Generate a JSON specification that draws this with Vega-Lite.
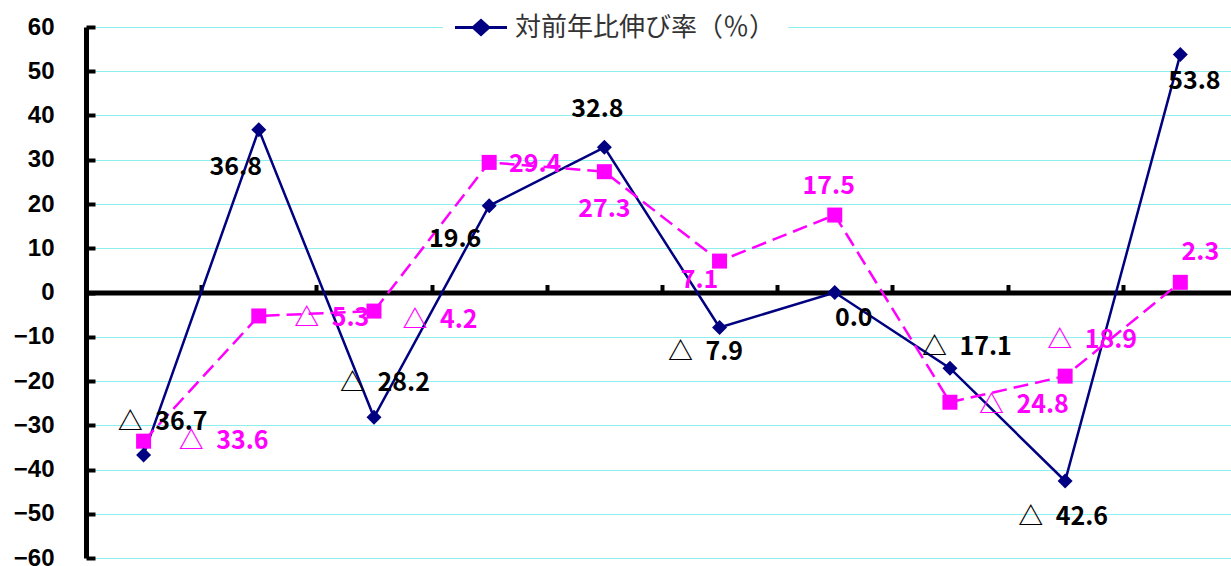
{
  "$schema": "https://vega.github.io/schema/vega-lite/v6.json",
  "width": 1145,
  "height": 531,
  "autosize": {"type": "none"},
  "padding": {"left": 86, "top": 27, "right": 0, "bottom": 8},
  "background": "white",
  "config": {"view": {"stroke": null}},
  "data": {
    "values": [
      {"i": 1, "s": "A", "v": -36.7},
      {"i": 2, "s": "A", "v": 36.8},
      {"i": 3, "s": "A", "v": -28.2},
      {"i": 4, "s": "A", "v": 19.6},
      {"i": 5, "s": "A", "v": 32.8},
      {"i": 6, "s": "A", "v": -7.9},
      {"i": 7, "s": "A", "v": 0.0},
      {"i": 8, "s": "A", "v": -17.1},
      {"i": 9, "s": "A", "v": -42.6},
      {"i": 10, "s": "A", "v": 53.8},
      {"i": 1, "s": "B", "v": -33.6},
      {"i": 2, "s": "B", "v": -5.3},
      {"i": 3, "s": "B", "v": -4.2},
      {"i": 4, "s": "B", "v": 29.4},
      {"i": 5, "s": "B", "v": 27.3},
      {"i": 6, "s": "B", "v": 7.1},
      {"i": 7, "s": "B", "v": 17.5},
      {"i": 8, "s": "B", "v": -24.8},
      {"i": 9, "s": "B", "v": -18.9},
      {"i": 10, "s": "B", "v": 2.3}
    ]
  },
  "transform": [
    {"calculate": "datum.v < 0 ? '△\u2002' + format(-datum.v, '.1f') : format(datum.v, '.1f')", "as": "label"}
  ],
  "encoding": {
    "x": {
      "field": "i",
      "type": "quantitative",
      "scale": {"domain": [0.5, 10.44], "nice": false, "zero": false},
      "axis": {
        "orient": "bottom",
        "values": [1.5, 2.5, 3.5, 4.5, 5.5, 6.5, 7.5, 8.5, 9.5],
        "labels": false,
        "title": null,
        "grid": false,
        "offset": -265.5,
        "domainColor": "black",
        "domainWidth": 5,
        "tickColor": "black",
        "tickWidth": 4,
        "tickSize": -8
      }
    },
    "y": {
      "field": "v",
      "type": "quantitative",
      "scale": {"domain": [-60, 60], "nice": false},
      "axis": {
        "values": [-60, -50, -40, -30, -20, -10, 0, 10, 20, 30, 40, 50, 60],
        "title": null,
        "grid": true,
        "gridColor": "#8EEFEF",
        "gridWidth": 1,
        "domainColor": "black",
        "domainWidth": 5,
        "tickColor": "black",
        "tickWidth": 4,
        "tickSize": -9,
        "labelPadding": 41,
        "labelFont": "Liberation Sans",
        "labelFontWeight": "bold",
        "labelFontSize": 24,
        "labelColor": "black",
        "labelFlush": false
      }
    }
  },
  "layer": [
    {
      "transform": [{"filter": "datum.s == 'A'"}],
      "mark": {"type": "line", "color": "#000080", "strokeWidth": 2.5}
    },
    {
      "transform": [{"filter": "datum.s == 'B'"}],
      "mark": {"type": "line", "color": "#FF00FF", "strokeWidth": 2.5, "strokeDash": [15, 7]}
    },
    {
      "transform": [{"filter": "datum.s == 'B'"}],
      "mark": {"type": "point", "shape": "square", "filled": true, "size": 225, "opacity": 1, "color": "#FF00FF"}
    },
    {
      "transform": [{"filter": "datum.s == 'A'"}],
      "mark": {"type": "point", "shape": "diamond", "filled": true, "size": 225, "opacity": 1},
      "encoding": {
        "color": {
          "datum": "対前年比伸び率（％）",
          "type": "nominal",
          "scale": {"range": ["#000080"]},
          "legend": {
            "orient": "none",
            "legendX": 357,
            "legendY": -37.5,
            "title": null,
            "symbolType": "M-1,-0.06L1,-0.06L1,0.06L-1,0.06Z M0,-0.35L0.38,0L0,0.35L-0.38,0Z",
            "symbolSize": 2704,
            "symbolStrokeWidth": 0,
            "symbolFillColor": "#000080",
            "symbolOpacity": 1,
            "labelFont": "Noto Sans CJK JP",
            "labelFontSize": 26,
            "labelColor": "#333333",
            "labelOffset": 8,
            "labelLimit": 400,
            "fillColor": "white",
            "padding": 12
          }
        }
      }
    },
    {
      "transform": [{"filter": "datum.s == 'A'"}],
      "mark": {
        "type": "text",
        "font": "Noto Sans CJK JP",
        "fontWeight": "bold",
        "fontSize": 25,
        "color": "black",
        "dx": {"expr": "[0, 19, -23, 11, -34, -7, -14, 19, 17, -2, 14][datum.i]"},
        "dy": {"expr": "[0, -33, 37, -34, 33, -38, 25, 25, -21, 36, 27][datum.i]"}
      },
      "encoding": {"text": {"field": "label"}}
    },
    {
      "transform": [{"filter": "datum.s == 'B'"}],
      "mark": {
        "type": "text",
        "font": "Noto Sans CJK JP",
        "fontWeight": "bold",
        "fontSize": 25,
        "color": "#FF00FF",
        "dx": {"expr": "[0, 80, 73, 66, 46, 0, -20, -6, 74, 27, 20][datum.i]"},
        "dy": {"expr": "[0, 0, 2, 9, 2, 37, 19, -29, 3, -36, -30][datum.i]"}
      },
      "encoding": {"text": {"field": "label"}}
    }
  ]
}
